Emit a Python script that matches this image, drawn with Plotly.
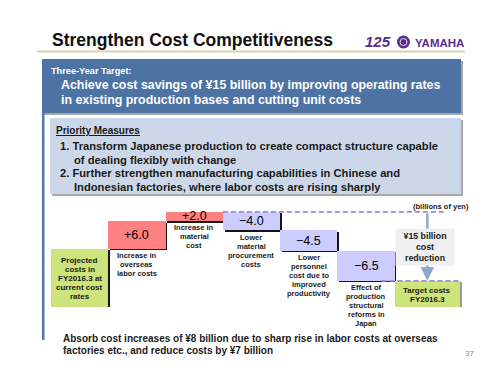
import numpy as np
import plotly.graph_objects as go

W, H = 500, 375
FONT = "Liberation Sans, Arial, Helvetica, sans-serif"
INK = "#1a1a1a"
WHITE = "#ffffff"
PURPLE = "#5b2c8f"

# ---------------- data ----------------
categories = [
    "Projected costs in FY2016.3 at current cost rates",
    "Increase in overseas labor costs",
    "Increase in material cost",
    "Lower material procurement costs",
    "Lower personnel cost due to improved productivity",
    "Effect of production structural reforms in Japan",
    "Target costs FY2016.3",
]
projected_level = 12.7          # unlabeled start bar, height
changes = [6.0, 2.0, -4.0, -4.5, -6.5]
value_labels = ["+6.0", "+2.0", "\u22124.0", "\u22124.5", "\u22126.5"]
change_label_lines = [
    ["Increase in", "overseas", "labor costs"],
    ["Increase in", "material", "cost"],
    ["Lower", "material", "procurement", "costs"],
    ["Lower", "personnel", "cost due to", "improved", "productivity"],
    ["Effect of", "production", "structural", "reforms in", "Japan"],
]
projected_label_lines = ["Projected", "costs in", "FY2016.3 at", "current cost", "rates"]
target_label_lines = ["Target costs", "FY2016.3"]
reduction_label_lines = ["\u00a515 billion", "cost", "reduction"]
unit_label = "(billions of yen)"

title_text = "Strengthen Cost Competitiveness"
target_heading = "Three-Year Target:"
target_lines = ["Achieve cost savings of \u00a515 billion by improving operating rates",
                "in existing production bases and cutting unit costs"]
priority_heading = "Priority Measures"
priority_lines = [("1. Transform Japanese production to create compact structure capable", False),
                  ("of dealing flexibly with change", True),
                  ("2. Further strengthen manufacturing capabilities in Chinese and", False),
                  ("Indonesian factories, where labor costs are rising sharply", True)]
footer_lines = ["Absorb cost increases of \u00a58 billion due to sharp rise in labor costs at overseas",
                "factories etc., and reduce costs by \u00a57 billion"]
page_number = "37"

# ---------------- waterfall geometry from data ----------------
bases = [0.0]
heights = [projected_level]
cum = projected_level
for ch in changes:
    new = cum + ch
    bases.append(min(cum, new))
    heights.append(abs(ch))
    cum = new
target_level = cum
bases.append(0.0)
heights.append(target_level)
peak = projected_level + sum(c for c in changes if c > 0)

GREEN, PINK, LAV = "#cde37c", "#ff8080", "#ccccff"
colors = [GREEN] + [PINK if c > 0 else LAV for c in changes] + [GREEN]
widths = [1.0] * 6 + [1.14]
offsets = [-0.5] * 7
centers = [i + o + w / 2 for i, (o, w) in enumerate(zip(offsets, widths))]
shadow_colors = ["#151515"] * 6 + ["#9a9a9a"]
shadow_dx, shadow_dy = 0.03, 0.35

# axis placement (pixels)
x_range = [-0.5, 6.72]
x_unit = 57.28
x_left = 51
y_unit = 4.6
y_bottom, y_top = 307, 200
y_range = [0, (y_bottom - y_top) / y_unit]


def px(x):
    return x / W


def py(y):
    return 1 - y / H


fig = go.Figure()
fig.add_bar(x=categories, y=heights, base=[b - shadow_dy for b in bases],
            offset=[o + shadow_dx for o in offsets], width=widths,
            marker=dict(color=shadow_colors, line=dict(width=0)), hoverinfo="skip")
fig.add_bar(x=categories, y=heights, base=bases, offset=offsets, width=widths,
            marker=dict(color=colors, line=dict(width=0)), hoverinfo="skip")

ann = []


def ptext(x, y, s, size, color=INK, xanchor="left", bold=True):
    ann.append(dict(x=px(x), y=py(y), xref="paper", yref="paper", text=(f"<b>{s}</b>" if bold else s),
                    showarrow=False, xanchor=xanchor, yanchor="middle",
                    font=dict(family=FONT, size=size, color=color)))


def dtext(x, y, s, size, yshift=0, bold=True, color=INK):
    ann.append(dict(x=x, y=y, xref="x", yref="y", text=(f"<b>{s}</b>" if bold else s),
                    showarrow=False, xanchor="center", yanchor="middle", yshift=yshift,
                    font=dict(family=FONT, size=size, color=color)))


# arrow (drawn first so the grey box covers it)
ann.append(dict(x=centers[6], y=target_level, ax=centers[6], ay=peak, xref="x", yref="y",
                axref="x", ayref="y", text="", showarrow=True, arrowhead=2, arrowsize=1.1,
                arrowwidth=2.5, arrowcolor="#8eaacb", standoff=0))
ann.append(dict(x=px(425), y=py(246.5), xref="paper", yref="paper",
                text="<b>" + "<br>".join(reduction_label_lines) + "</b>", showarrow=False,
                xanchor="center", yanchor="middle", width=56, height=34, bgcolor="#efefef",
                font=dict(family=FONT, size=8.8, color=INK)))

# values inside change bars and labels under them
for k, (lab, lines) in enumerate(zip(value_labels, change_label_lines), start=1):
    dtext(centers[k], bases[k] + heights[k] / 2, lab, 12.5, bold=False, color="#000")
    for j, ln in enumerate(lines):
        dtext(centers[k], bases[k], ln, 7.5, yshift=-(7 + 9 * j))

# labels inside the green bars
for k, lines in ((0, projected_label_lines), (6, target_label_lines)):
    n = len(lines)
    for j, ln in enumerate(lines):
        dtext(centers[k], heights[k] / 2, ln, 8, yshift=-((j - (n - 1) / 2) * 9) - 1)

# slide texts
ptext(50, 40, title_text, 17.5, color="#111")
ptext(49, 70.7, target_heading, 9.2, color=WHITE)
ptext(59, 85, target_lines[0], 12.4, color=WHITE)
ptext(59, 100, target_lines[1], 12.4, color=WHITE)
ptext(54, 130.5, f"<u>{priority_heading}</u>", 10)
for (s, indent), yy in zip(priority_lines, [146, 160, 173.3, 186.7]):
    ptext(72 if indent else 58, yy, s, 11.2)
ptext(471, 206, unit_label, 7.5, xanchor="right")
ptext(61, 338.7, footer_lines[0], 10)
ptext(61, 350.7, footer_lines[1], 10)
ptext(469, 353, page_number, 8, color="#8a8a8a", xanchor="center", bold=False)
# logo
ptext(378, 42, "<i>125</i>", 15, color=PURPLE, xanchor="center")
ptext(413, 42.7, "YAMAHA", 11.5, color=PURPLE)

shapes = [
    # title underline
    dict(type="line", xref="paper", yref="paper", x0=px(37), x1=px(465), y0=py(51.5), y1=py(51.5),
         line=dict(color="#d8d3ad", width=2), layer="below"),
    # header box shadow + box
    dict(type="rect", xref="paper", yref="paper", x0=px(44), x1=px(463), y0=py(115), y1=py(61),
         fillcolor="#a6a6a6", line=dict(width=0), layer="below"),
    dict(type="rect", xref="paper", yref="paper", x0=px(42), x1=px(461), y0=py(113), y1=py(59),
         fillcolor="#4d72a4", line=dict(width=0), layer="below"),
    # left bar of the frame
    dict(type="rect", xref="paper", yref="paper", x0=px(42), x1=px(44.5), y0=py(340), y1=py(113),
         fillcolor="#5479ab", line=dict(width=0), layer="below"),
    # priority box shadow + box
    dict(type="rect", xref="paper", yref="paper", x0=px(52), x1=px(463), y0=py(196), y1=py(120),
         fillcolor="#a9a9a9", line=dict(width=0), layer="below"),
    dict(type="rect", xref="paper", yref="paper", x0=px(50), x1=px(461), y0=py(194), y1=py(118),
         fillcolor="#ccd8e9", line=dict(width=0), layer="below"),
    # logo emblem
    dict(type="circle", xref="paper", yref="paper", x0=px(397), x1=px(410), y0=py(48.5), y1=py(35.5),
         fillcolor=PURPLE, line=dict(width=0), layer="below"),
    dict(type="circle", xref="paper", yref="paper", x0=px(400), x1=px(407), y0=py(45.5), y1=py(38.5),
         fillcolor="rgba(0,0,0,0)", line=dict(color="#e6dcf0", width=1), layer="below"),
    # dashed reference lines
    dict(type="line", xref="x", yref="y", x0=centers[2] + widths[2] / 2, x1=centers[6] + 0.3,
         y0=peak, y1=peak, line=dict(color="#9c90d4", width=1.8, dash="5px,3px")),
    dict(type="line", xref="x", yref="y", x0=centers[5] + 0.27, x1=centers[6] + widths[6] / 2,
         y0=target_level, y1=target_level, line=dict(color="#9c90d4", width=1.8, dash="5px,3px")),
]

fig.update_layout(
    width=W, height=H, autosize=False,
    margin=dict(l=0, r=0, t=0, b=0),
    paper_bgcolor="white", plot_bgcolor="rgba(0,0,0,0)",
    showlegend=False, barmode="overlay", bargap=0,
    xaxis=dict(type="category", range=x_range, visible=False, fixedrange=True,
               domain=[px(x_left), px(x_left + (x_range[1] - x_range[0]) * x_unit)]),
    yaxis=dict(range=y_range, visible=False, fixedrange=True,
               domain=[py(y_bottom), py(y_top)]),
    font=dict(family=FONT),
    shapes=shapes, annotations=ann,
)

fig.write_html("out.html", config={"displayModeBar": False},
               post_script="document.body.style.margin='0';document.body.style.overflow='hidden';")
